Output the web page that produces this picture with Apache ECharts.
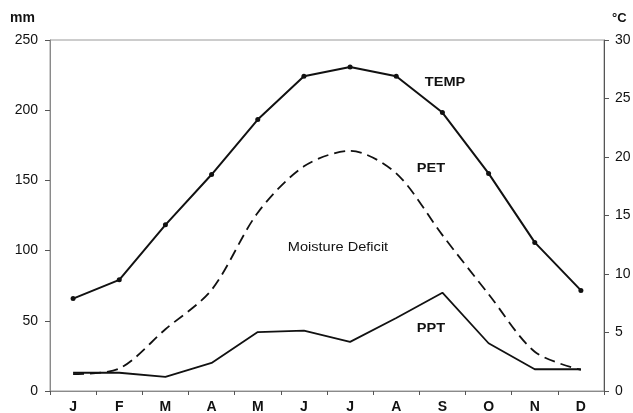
<!DOCTYPE html>
<html>
<head>
<meta charset="utf-8">
<script src="https://cdn.jsdelivr.net/npm/echarts@6/dist/echarts.min.js"></script>
<style>
  html, body { margin: 0; padding: 0; background: #fff; }
  #chart { width: 633px; height: 413px; }
</style>
</head>
<body>
<div id="chart"></div>
<script>
const months = ['J', 'F', 'M', 'A', 'M', 'J', 'J', 'A', 'S', 'O', 'N', 'D']
// mean temperature, °C (right axis)
const temp = [7.9, 9.5, 14.2, 18.5, 23.2, 26.9, 27.7, 26.9, 23.8, 18.6, 12.7, 8.6]
// potential evapotranspiration, mm
const pet = [12, 16, 44, 72, 127, 160, 171, 155, 111, 69, 28, 15]
// precipitation, mm
const ppt = [13, 13, 10, 20, 42, 43, 35, 52, 70, 34, 15.5, 15.5]
const mmTicks = [0, 50, 100, 150, 200, 250]
const degTicks = [0, 5, 10, 15, 20, 25, 30]

const font = 'Liberation Sans, Arial, sans-serif'
const chart = echarts.init(document.getElementById('chart'))

// series labels, placed in the empty parts of the plot
function tag(text, x, y, bold) {
  return {
    type: 'text', x: x, y: y, scaleX: 1.12, originX: 0, originY: 0,
    style: { text: text, font: (bold ? 'bold ' : '') + '13px ' + font, fill: '#111', align: 'center', verticalAlign: 'middle' }
  }
}

chart.setOption({
  animation: false,
  grid: {
    left: 50, right: 29, top: 40, bottom: 22, outerBoundsMode: 'none',
    show: true, borderColor: '#9a9a9a', borderWidth: 1
  },
  xAxis: {
    type: 'category',
    data: months,
    boundaryGap: true,
    axisLine: { lineStyle: { color: '#8a8a8a', width: 1 } },
    axisTick: { show: true, length: 4, lineStyle: { color: '#555' } },
    axisLabel: { color: '#111', fontFamily: font, fontSize: 14, fontWeight: 'bold', margin: 9 }
  },
  yAxis: [
    {
      type: 'value', min: mmTicks[0], max: mmTicks[mmTicks.length - 1], interval: 50,
      axisLine: { show: true, lineStyle: { color: '#8a8a8a' } },
      axisTick: { show: true, length: 5, lineStyle: { color: '#555' } },
      splitLine: { show: false },
      axisLabel: { color: '#111', fontFamily: font, fontSize: 14, margin: 12 }
    },
    {
      type: 'value', min: degTicks[0], max: degTicks[degTicks.length - 1], interval: 5,
      position: 'right',
      axisLine: { show: true, lineStyle: { color: '#555' } },
      axisTick: { show: true, length: 5, lineStyle: { color: '#555' } },
      splitLine: { show: false },
      axisLabel: { color: '#111', fontFamily: font, fontSize: 14, margin: 11 }
    }
  ],
  series: [
    {
      name: 'TEMP', type: 'line', yAxisIndex: 1, data: temp,
      symbol: 'circle', symbolSize: 5,
      itemStyle: { color: '#111' },
      lineStyle: { color: '#111', width: 2 }
    },
    {
      name: 'PET', type: 'line', data: pet, smooth: 0.3,
      symbol: 'none',
      lineStyle: { color: '#111', width: 1.8, type: [11, 6] }
    },
    {
      name: 'PPT', type: 'line', data: ppt,
      symbol: 'none',
      lineStyle: { color: '#111', width: 1.8 }
    }
  ],
  graphic: [
    { type: 'text', left: 10, top: 11, style: { text: 'mm', font: 'bold 14px ' + font, fill: '#111' } },
    { type: 'text', left: 612, top: 12, style: { text: '°C', font: 'bold 13px ' + font, fill: '#111' } },
    tag('TEMP', 445, 82, true),
    tag('PET', 431, 168, true),
    tag('PPT', 431, 328, true),
    tag('Moisture Deficit', 338, 247, false)
  ]
})
</script>
</body>
</html>
